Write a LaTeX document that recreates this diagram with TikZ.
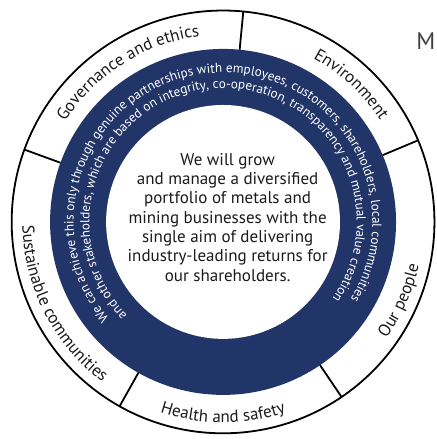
\documentclass[tikz,border=0pt]{standalone}
\usepackage{fontspec}
\setmainfont{PT Sans}
\usepackage{tikz}
\usetikzlibrary{decorations.text}

\definecolor{ringblue}{RGB}{33,53,105}
\definecolor{textgrey}{RGB}{28,26,27}

\tikzset{
    divider/.style={draw=black, line width=1.8pt},
    area label/.style={decorate, decoration={text along path, text align=center,
        text color=textgrey, text={|\fontsize{17}{17}\selectfont|#1}}},
    ring text/.style={decorate, decoration={text along path, text align=center,
        text color=white, text={|\fontsize{13.2}{14}\selectfont|#1}}}
}

\begin{document}
\begin{tikzpicture}
    % fix the size of the picture
    \useasboundingbox (-7.84,-7.63) rectangle (7.49,7.80);

    % draw the rings
    \filldraw[fill=white, draw=black, line width=1.8pt] (0,0) circle (7.43cm);
    \fill[ringblue] (0,0) circle (6.08cm);
    \fill[white] (0,0) circle (4.11cm);

    % the dividers between the five areas
    \draw[divider] (84.5:6.08) -- (84.5:7.43);
    \draw[divider] (22.7:6.08) -- (22.7:7.43);
    \draw[divider] (-55.9:6.08) -- (-55.9:7.43);
    \draw[divider] (240.7:6.08) -- (240.7:7.43);
    \draw[divider] (160:6.08) -- (160:7.43);

    % the names of the areas (top ones read clockwise, bottom ones anticlockwise)
    \path[area label={Governance and ethics}] (162.4:6.57) arc[start angle=162.4, end angle=82.4, radius=6.57];
    \path[area label={Environment}] (87:6.57) arc[start angle=87, end angle=7, radius=6.57];
    \path[area label={Our people}] (-64:7.05) arc[start angle=-64, end angle=16, radius=7.05];
    \path[area label={Health and safety}] (225:7.05) arc[start angle=225, end angle=315, radius=7.05];
    \path[area label={Sustainable communities}] (152:7.05) arc[start angle=152, end angle=262, radius=7.05];

    % the text in the blue ring
    \path[ring text={We can achieve this only through genuine partnerships with employees, customers, shareholders, local communities}]
        (244.5:5.25) arc[start angle=244.5, end angle=-55.5, radius=5.25];
    \path[ring text={and other stakeholders, which are based on integrity, co-operation, transparency and mutual value creation}]
        (244.5:4.70) arc[start angle=244.5, end angle=-55.5, radius=4.70];

    % the text in the middle
    \node[align=center, text=textgrey, font=\fontsize{17}{19.3}\selectfont] (aim) at (0.16,0.16)
        {We will grow\\and manage a diversified\\portfolio of metals and\\mining businesses with the\\single aim of delivering\\industry-leading returns for\\our shareholders.};

    % the cut off letter on the right
    \node[text=black!75, font=\fontsize{24}{24}\selectfont, inner sep=0pt] (m) at (7.13,6.37) {M};
\end{tikzpicture}
\end{document}
